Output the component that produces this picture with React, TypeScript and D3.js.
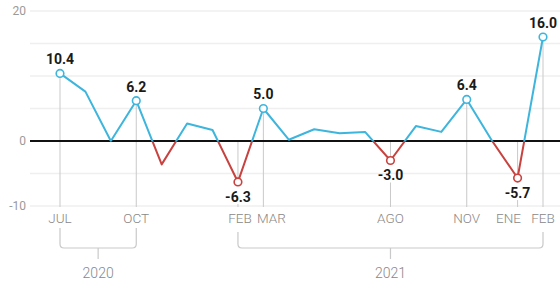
import React from "react";
import * as d3 from "d3";

const months = ["JUL","AGO","SEP","OCT","NOV","DIC","ENE","FEB","MAR","ABR","MAY","JUN","JUL","AGO","SEP","OCT","NOV","DIC","ENE","FEB"];
const values = [10.4, 7.6, 0, 6.2, -3.6, 2.7, 1.7, -6.3, 5.0, 0.2, 1.8, 1.2, 1.4, -3.0, 2.3, 1.4, 6.4, 0, -5.7, 16.0];
const labeledIdx = [0, 3, 7, 8, 13, 16, 18, 19];
const tickLabels = ["JUL", "OCT", "FEB", "MAR", "AGO", "NOV", "ENE", "FEB"];
const yTicks = [20, 0, -10];
const gridValues = [20, 15, 10, 5, -5, -10];
const years = ["2020", "2021"];
const yearStart = [0, 7];
const yearEnd = [3, 19];

const W = 560, H = 286;
const BLUE = "#3db5dd";
const RED = "#c8423f";
const GRAY = "#c9c9c9";
// horizontal nudges for crowded axis labels (by labeled index position)
const labelNudge: Record<number, number> = { 2: 2, 3: 8, 6: -9 };

export default function App() {
  const x = d3.scaleLinear().domain([0, values.length - 1]).range([60, 543]);
  const y = d3.scaleLinear().domain([-10, 20]).range([206, 11]);
  const y0 = y(0);
  const line = d3.line<number>().x((_, i) => x(i)).y(d => y(d));
  const path = line(values) || "";
  const axisY = 218;
  const lineBottom = 207;
  const bracketTop = 228;
  const bracketY = 248;
  const r = 4;

  return (
    <svg width={W} height={H} style={{ position: "absolute", left: 0, top: 0, background: "#fff" }}
      fontFamily="Roboto, 'Open Sans', sans-serif">
      <defs>
        <clipPath id="above"><rect x={0} y={0} width={W} height={y0} /></clipPath>
        <clipPath id="below"><rect x={0} y={y0} width={W} height={H - y0} /></clipPath>
      </defs>
      {gridValues.map(v => (
        <line key={v} x1={30} x2={W} y1={y(v)} y2={y(v)} stroke="#efefef" strokeWidth={1.5} />
      ))}
      {yTicks.map(v => (
        <text key={v} x={26} y={y(v)} dy="0.35em" textAnchor="end" fontSize={12} fill="#9a9a9a">{v}</text>
      ))}
      {labeledIdx.map((idx, k) => {
        const v = values[idx];
        const xx = x(idx);
        if (v >= 0) {
          return <line key={k} x1={xx} x2={xx} y1={y(v)} y2={lineBottom} stroke={GRAY} strokeWidth={1} />;
        }
        return (
          <g key={k}>
            <line x1={xx} x2={xx} y1={y0} y2={y(v)} stroke={GRAY} strokeWidth={1} />
            {y(v) + 22 < lineBottom && (
              <line x1={xx} x2={xx} y1={y(v) + 22} y2={lineBottom} stroke={GRAY} strokeWidth={1} />
            )}
          </g>
        );
      })}
      <line x1={30} x2={W} y1={y0} y2={y0} stroke="#111" strokeWidth={2} />
      <path d={path} fill="none" stroke={BLUE} strokeWidth={2} strokeLinejoin="round" clipPath="url(#above)" />
      <path d={path} fill="none" stroke={RED} strokeWidth={2} strokeLinejoin="round" clipPath="url(#below)" />
      {labeledIdx.map((idx, k) => {
        const v = values[idx];
        return (
          <circle key={k} cx={x(idx)} cy={y(v)} r={3.8} fill="#fff" stroke={v >= 0 ? BLUE : RED} strokeWidth={1.6} />
        );
      })}
      {labeledIdx.map((idx, k) => {
        const v = values[idx];
        const ty = v >= 0 ? y(v) - 14 : y(v) + 15;
        return (
          <text key={k} x={x(idx)} y={ty} dy="0.35em" textAnchor="middle" fontSize={14} fontWeight={700} fill="#1a1a1a">
            {v.toFixed(1)}
          </text>
        );
      })}
      {labeledIdx.map((idx, k) => (
        <text key={k} x={x(idx) + (labelNudge[k] || 0)} y={axisY} dy="0.35em" textAnchor="middle" fontSize={13.5} fontWeight={300} fill="#888">
          {tickLabels[k]}
        </text>
      ))}
      {years.map((yr, k) => {
        const xa = x(yearStart[k]);
        const xb = x(yearEnd[k]);
        const top = k === 0 ? bracketTop : bracketTop + 4;
        const xm = (xa + xb) / 2;
        const d = `M${xa},${top} V${bracketY - r} Q${xa},${bracketY} ${xa + r},${bracketY} H${xb - r} Q${xb},${bracketY} ${xb},${bracketY - r} V${top}`;
        return (
          <g key={yr}>
            <path d={d} fill="none" stroke={GRAY} strokeWidth={1.2} />
            <line x1={xm} x2={xm} y1={bracketY} y2={bracketY + 11} stroke={GRAY} strokeWidth={1.2} />
            <text x={xm} y={273} dy="0.35em" textAnchor="middle" fontSize={14} fontWeight={300} fill="#888">{yr}</text>
          </g>
        );
      })}
    </svg>
  );
}
